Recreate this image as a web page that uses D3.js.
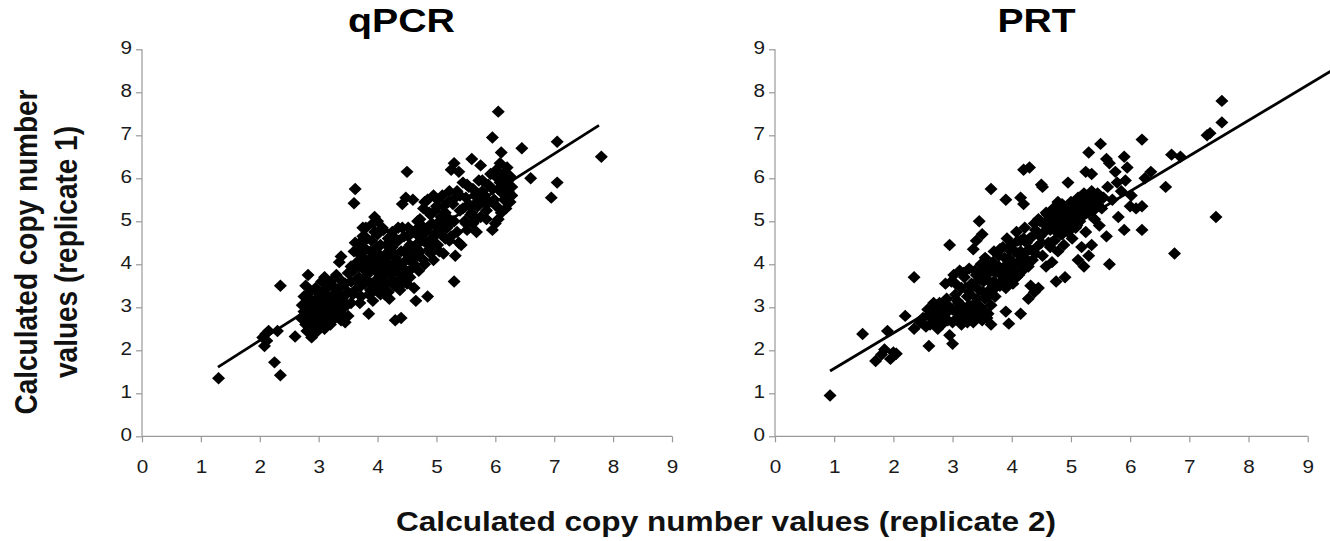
<!DOCTYPE html>
<html><head><meta charset="utf-8">
<script src="https://cdn.jsdelivr.net/npm/d3@7/dist/d3.min.js"></script>
<style>
body{margin:0;background:#fff;}
svg{display:block;font-family:"Liberation Sans",Arial,sans-serif;}
</style></head>
<body>
<svg id="chart" width="1330" height="541"></svg>
<script>
// ---- data ----
const panelTitles = ["qPCR", "PRT"];
const xTicks = [0,1,2,3,4,5,6,7,8,9];
const yTicks = [0,1,2,3,4,5,6,7,8,9];
const xAxisTitle = "Calculated copy number values (replicate 2)";
const yAxisTitleLines = ["Calculated copy number", "values (replicate 1)"];

// trend line endpoints [x, y]
const qpcrTrend = [[1.29,1.61],[7.76,7.23]];
const prtTrend = [[0.93,1.52],[9.4,8.50]];

const qpcrPoints = [
[1.30,1.35],[2.35,1.42],[2.25,1.72],[2.08,2.10],[2.12,2.22],[2.05,2.30],[2.15,2.45],[2.10,2.38],[2.30,2.45],[2.35,3.50],[2.60,2.32],[2.78,3.50],[2.82,3.75],[2.88,2.30],[2.92,2.42],
[2.70,2.75],[2.72,3.05],[2.75,2.90],[2.78,2.60],[2.80,3.20],[2.83,2.80],[2.85,3.00],[2.85,3.35],[2.88,2.55],[2.90,2.70],[2.92,3.10],[2.95,2.85],[2.95,3.45],[2.98,2.45],[3.00,3.00],[3.00,3.25],[3.02,2.65],[3.05,3.60],[3.05,2.80],[3.08,3.10],[3.10,2.50],[3.10,3.40],[3.12,2.95],[3.15,3.20],[3.15,2.70],[3.18,3.50],[3.20,3.00],[3.22,2.85],[3.25,3.30],[3.25,3.65],[3.28,2.75],[3.30,3.10],[3.32,2.95],[3.35,3.45],[3.38,2.70],[3.40,3.20],[3.42,3.00],[3.45,2.65],[3.45,3.55],[3.50,3.35],[3.48,3.05],[3.35,4.05],[3.38,4.18],[3.30,3.75],[3.55,3.10],
[2.75,3.25],[2.80,2.45],[2.88,3.15],[2.92,2.62],[2.98,3.35],[3.02,2.90],[3.05,3.15],[3.08,2.60],[3.12,3.30],[3.15,3.55],[3.18,2.85],[3.22,3.15],[3.28,3.45],[3.30,2.85],[3.35,3.25],[3.40,2.85],[3.40,3.60],[3.45,3.30],[3.50,2.80],[3.50,3.80],[2.90,2.95],[3.00,2.75],[3.20,2.60],[3.10,3.70],
[3.55,3.60],[3.58,3.85],[3.60,4.30],[3.60,5.42],[3.62,5.75],[3.62,3.40],[3.65,4.05],[3.68,3.70],[3.70,4.50],[3.72,3.25],[3.72,4.20],[3.75,3.90],[3.75,4.65],[3.78,3.55],[3.80,4.85],[3.80,4.35],[3.82,3.75],[3.85,2.85],[3.85,4.10],[3.88,3.40],[3.90,4.55],[3.90,3.95],[3.92,3.15],[3.92,4.95],[3.95,5.10],[3.95,3.60],[3.98,4.25],[4.00,3.80],[4.00,4.70],[4.02,3.45],[4.05,4.05],[4.05,4.45],[4.08,3.65],[4.10,3.90],[4.10,4.80],[4.12,3.30],[4.15,4.25],[4.15,3.55],[4.18,4.60],[4.20,3.20],[4.20,4.00],[4.22,3.75],[4.25,4.40],[4.25,4.75],[4.28,3.50],[4.30,2.70],[4.30,4.15],[4.32,3.85],[4.35,4.55],[4.38,3.40],[4.40,2.75],[4.40,4.00],[4.42,5.40],[4.42,4.85],[4.45,3.70],[4.45,4.30],[4.48,5.55],[4.50,6.15],[4.50,3.55],[4.52,4.65],[4.55,4.10],[4.58,3.90],[4.60,5.50],[4.60,4.40],[4.62,3.45],[4.65,3.15],
[3.55,3.95],[3.58,3.30],[3.62,4.50],[3.65,3.60],[3.68,4.30],[3.70,3.95],[3.72,3.50],[3.75,4.40],[3.78,4.05],[3.80,3.65],[3.82,4.60],[3.85,3.30],[3.85,3.85],[3.88,4.30],[3.90,3.55],[3.92,4.10],[3.95,4.75],[3.95,3.40],[3.98,3.95],[4.00,4.40],[4.02,3.65],[4.05,4.20],[4.05,3.30],[4.08,4.85],[4.10,3.50],[4.12,4.05],[4.15,4.45],[4.15,3.80],[4.18,3.35],[4.20,4.25],[4.22,4.60],[4.25,3.95],[4.25,3.60],[4.28,4.25],[4.30,4.60],[4.32,3.60],[4.35,4.00],[4.35,4.85],[4.38,3.80],[4.40,4.30],[4.42,3.55],[4.45,4.05],[4.45,4.65],[4.48,3.85],[4.50,4.25],[4.52,4.85],[4.55,3.70],[4.55,4.45],[4.58,4.20],[4.60,4.75],[4.62,4.00],[3.70,3.10],[3.75,4.85],[4.00,5.00],
[4.65,4.80],[4.68,4.20],[4.70,3.85],[4.72,5.05],[4.75,4.55],[4.78,5.30],[4.80,4.00],[4.82,4.75],[4.85,3.25],[4.85,5.50],[4.88,4.35],[4.90,5.15],[4.92,4.60],[4.95,5.60],[4.95,4.10],[4.98,4.90],[5.00,5.35],[5.02,4.45],[5.05,5.00],[5.08,4.70],[5.10,5.60],[5.12,4.25],[5.15,5.20],[5.18,4.85],[5.20,5.45],[5.22,4.55],[5.25,6.20],[5.28,5.00],[5.30,6.35],[5.30,3.60],[5.32,4.20],[5.35,5.70],[5.38,4.50],[5.38,6.15],[5.40,5.25],[5.42,4.45],
[4.65,4.45],[4.68,5.00],[4.70,4.65],[4.72,4.30],[4.75,4.90],[4.78,4.10],[4.80,5.45],[4.82,4.50],[4.85,4.85],[4.88,5.20],[4.90,4.25],[4.92,4.95],[4.95,4.50],[4.98,5.25],[5.00,4.70],[5.02,5.50],[5.05,4.30],[5.08,5.10],[5.10,4.85],[5.12,5.35],[5.15,4.60],[5.18,5.10],[5.20,4.95],[5.22,5.70],[5.25,4.65],[5.28,5.40],[5.30,5.00],[5.32,5.55],[5.35,4.75],
[5.45,5.90],[5.48,5.00],[5.50,5.55],[5.52,4.80],[5.55,5.80],[5.58,5.15],[5.60,6.45],[5.62,4.95],[5.65,5.60],[5.68,4.75],[5.70,5.35],[5.72,5.95],[5.75,6.30],[5.75,5.10],[5.78,5.70],[5.80,5.45],[5.85,5.25],[5.88,5.85],[5.92,6.10],[5.95,6.95],[5.95,4.80],[5.98,5.50],[6.00,4.95],[6.02,6.20],[6.05,7.55],[6.05,5.75],[6.08,6.35],[6.10,5.20],[6.10,6.60],[6.12,6.00],[6.15,5.50],[6.18,5.85],[6.20,6.25],[6.22,5.95],[6.25,5.45],[6.28,5.80],[6.45,6.70],[6.60,6.00],[6.95,5.55],[7.05,5.90],[7.05,6.85],[7.80,6.50],
[5.40,5.60],[5.45,5.30],[5.50,4.95],[5.52,5.85],[5.55,5.40],[5.60,5.20],[5.62,5.75],[5.65,5.40],[5.68,5.05],[5.72,5.55],[5.78,5.95],[5.82,5.60],[5.85,5.05],[5.90,5.45],[5.95,5.75],[6.00,6.05],[6.02,5.35],[6.05,5.05],[6.08,5.90],[6.12,5.65],[6.15,6.10],[6.18,5.30],[6.22,5.70],[6.25,6.05],[6.28,5.60]
];

const prtPoints = [
[0.93,0.95],[1.48,2.38],[1.70,1.75],[1.80,1.90],[1.85,2.02],[1.90,2.45],[1.95,1.80],[2.00,1.95],[2.05,1.92],[2.20,2.80],[2.35,3.70],[2.35,2.50],[2.45,2.65],[2.55,2.55],[2.60,2.10],[2.60,2.80],[2.65,2.95],[2.70,2.65],[2.72,3.05],[2.75,2.50],[2.78,2.85],[2.80,3.00],[2.85,2.70],[2.88,3.55],[2.90,3.20],[2.92,2.90],[2.95,4.45],[2.95,2.35],[2.98,3.60],[3.00,2.15],[3.00,2.95],[3.02,3.75],[3.05,3.30],[3.08,2.75],[3.10,3.10],[3.12,3.85],[3.15,2.60],[3.15,3.45],[3.18,2.95],[3.20,3.70],[3.22,2.70],[3.25,3.25],[3.28,3.90],[3.30,2.85],[3.32,3.55],[3.35,4.35],[3.35,2.65],[3.38,3.10],[3.40,4.55],[3.40,3.75],[3.42,2.80],[3.45,5.00],[3.45,3.40],[3.48,4.00],[3.50,4.70],[3.50,2.95],[3.52,3.60],[3.55,3.20],[3.55,4.15],[3.58,2.75],[3.60,3.85],[3.62,3.40],[3.65,5.75],[3.65,3.05],[3.68,4.05],[3.70,3.60],[3.72,3.25],[3.75,3.90],[3.78,4.20],[3.80,3.50],[3.82,3.75],[3.85,4.40],[3.88,3.95],[3.90,5.50],[3.90,2.90],[3.90,3.65],[3.92,4.60],[3.95,2.62],[3.95,4.15],[3.98,3.80],[4.00,4.45],[4.02,3.55],[4.05,4.00],[4.08,4.75],[4.10,4.25],[4.12,3.75],[4.15,5.55],[4.15,2.85],[4.15,4.55],[4.18,4.05],[4.20,6.20],[4.20,5.40],[4.22,4.85],[4.25,4.30],[4.28,3.20],[4.30,6.25],[4.30,4.60],[4.32,3.50],[4.35,4.10],[4.38,3.35],[4.40,4.80],[4.42,4.40],[4.45,3.45],[4.45,5.05],[4.48,4.65],[4.50,5.85],[4.52,5.80],[4.52,4.20],[4.55,4.95],[4.58,3.95],[4.60,5.15],[4.62,4.50],[4.65,4.80],[4.68,4.05],[4.70,5.30],[4.72,4.55],[4.75,3.60],[4.75,5.00],[4.78,4.30],[4.80,5.20],[4.82,4.70],[4.85,5.40],[4.88,4.45],[4.90,3.70],[4.90,4.95],[4.92,5.25],[4.95,5.90],[4.95,4.75],[4.98,5.05],[5.00,5.45],[5.02,4.60],[5.05,5.20],[5.08,4.85],[5.10,5.35],[5.12,4.10],[5.15,5.00],[5.18,4.40],[5.20,5.50],[5.22,3.95],[5.25,6.15],[5.25,4.75],[5.28,5.25],[5.30,6.60],[5.30,4.20],[5.32,5.60],[5.35,6.10],[5.35,4.45],[5.38,5.40],[5.40,5.05],[5.45,5.65],[5.48,4.90],[5.50,6.80],[5.52,5.30],[5.55,5.55],[5.60,6.45],[5.60,4.65],[5.62,5.80],[5.65,6.35],[5.65,4.00],[5.70,5.50],[5.75,6.15],[5.78,5.90],[5.80,5.10],[5.85,5.70],[5.90,6.50],[5.90,4.80],[5.92,5.95],[5.95,6.25],[6.00,5.35],[6.02,5.60],[6.10,5.30],[6.20,6.90],[6.20,5.35],[6.20,4.80],[6.25,6.00],[6.35,6.15],[6.60,5.80],[6.70,6.55],[6.75,4.25],[6.85,6.50],[7.30,7.00],[7.35,7.05],[7.45,5.10],[7.55,7.30],[7.55,7.80],
[2.50,2.75],[2.58,2.95],[2.62,2.60],[2.68,2.85],[2.72,2.72],[2.78,3.10],[2.82,2.60],[2.85,2.88],[2.88,3.10],[2.92,2.70],[2.95,3.00],[3.00,2.65],[3.05,2.90],[3.08,3.15],[3.12,2.75],[3.15,3.05],[3.20,2.90],[3.25,2.65],[3.28,3.05],[3.30,3.30],[2.68,3.10],[3.05,3.55],[3.18,3.80],[3.22,3.45],
[3.35,3.50],[3.38,3.85],[3.42,3.20],[3.45,3.65],[3.48,3.00],[3.50,3.85],[3.52,3.35],[3.55,3.70],[3.58,4.00],[3.60,3.25],[3.62,3.60],[3.65,3.85],[3.68,3.40],[3.70,4.30],[3.72,3.80],[3.75,3.50],[3.78,3.95],[3.80,4.35],[3.82,3.60],[3.85,3.85],[3.88,4.15],[3.90,3.45],[3.92,3.90],[3.95,4.35],[3.98,3.60],[4.00,4.05],[4.02,3.85],[4.05,4.30],[4.08,3.70],[4.10,4.55],[4.12,4.00],[4.15,4.30],[4.18,3.85],[4.20,4.60],[4.22,4.15],[4.25,4.50],[4.28,3.95],[4.30,4.35],[3.60,2.85],[3.65,2.60],[3.50,2.70],[3.40,2.95],
[4.35,4.65],[4.38,4.95],[4.40,4.25],[4.45,4.70],[4.48,5.00],[4.50,4.50],[4.55,4.75],[4.58,5.20],[4.60,4.85],[4.62,5.05],[4.65,4.40],[4.68,4.95],[4.70,5.15],[4.72,4.80],[4.75,5.25],[4.78,5.45],[4.80,4.90],[4.82,5.10],[4.85,4.70],[4.88,5.30],[4.90,5.10],[4.92,4.85],[4.95,5.35],[4.98,4.90],[5.00,5.20],[5.02,5.00],[5.05,5.45],[5.08,5.10],[5.10,4.90],[5.12,5.55],[5.15,5.30],[5.18,5.15],[5.20,5.40],[5.22,5.65],[5.25,5.35],[5.28,5.50],[5.30,5.20],[5.32,5.45],[5.35,5.70],[5.38,5.25],[5.40,5.55],[5.45,5.40],[5.50,5.55]
];

// ---- layout ----
const svg = d3.select("#chart");
const panels = [
  {title: panelTitles[0], pts: qpcrPoints, trend: qpcrTrend, x0: 142, x1: 672, titleX: 401.5, titleW: 107},
  {title: panelTitles[1], pts: prtPoints, trend: prtTrend, x0: 775, x1: 1307.7, titleX: 1036.5, titleW: 78}
];
const yTop = 49.3, yBot = 436.3;
const axisColor = "#999";
const labelColor = "#1a1a1a";

const diamond = (hw, hh) => `M0,${-hh}L${hw},0L0,${hh}L${-hw},0Z`;

panels.forEach(p => {
  const x = d3.scaleLinear().domain([0, 9]).range([p.x0, p.x1]);
  const y = d3.scaleLinear().domain([0, 9]).range([yBot, yTop]);
  const g = svg.append("g");

  const ya = g.append("g").attr("transform", `translate(${p.x0},0)`)
    .call(d3.axisLeft(y).tickValues(yTicks).tickSize(6).tickPadding(4).tickFormat(d3.format("d")));
  const xa = g.append("g").attr("transform", `translate(0,${yBot})`)
    .call(d3.axisBottom(x).tickValues(xTicks).tickSize(6).tickPadding(18).tickFormat(d3.format("d")));
  [ya, xa].forEach(a => {
    a.select(".domain").attr("stroke", axisColor).attr("stroke-width", 1.2)
      .attr("d", a === ya ? `M0,${yBot}V${yTop}` : `M${p.x0},0H${p.x1}`);
    a.selectAll(".tick line").attr("stroke", axisColor).attr("stroke-width", 1.2);
    a.selectAll(".tick text").attr("fill", labelColor).style("font-size", "17.5px")
      .style("font-family", "'Liberation Sans', Arial, sans-serif")
      .attr("textLength", 11.5).attr("lengthAdjust", "spacingAndGlyphs");
  });
  ya.selectAll(".tick text").attr("dy", "0.25em");

  g.append("g").selectAll("path").data(p.pts).join("path")
    .attr("d", diamond(6.5, 6.2))
    .attr("transform", d => `translate(${x(d[0])},${y(d[1])})`)
    .attr("fill", "#000");

  g.append("path")
    .datum(p.trend)
    .attr("d", d3.line().x(d => x(d[0])).y(d => y(d[1])))
    .attr("stroke", "#000").attr("stroke-width", 2.8).attr("fill", "none");

  g.append("text").attr("x", p.titleX).attr("y", 32)
    .attr("text-anchor", "middle").attr("font-weight", "bold")
    .attr("font-size", 33).attr("textLength", p.titleW).attr("lengthAdjust", "spacingAndGlyphs")
    .attr("fill", "#000").text(p.title);
});

svg.append("text").attr("x", 726).attr("y", 531)
  .attr("text-anchor", "middle").attr("font-weight", "bold").attr("font-size", 27)
  .attr("textLength", 660).attr("lengthAdjust", "spacingAndGlyphs")
  .attr("fill", "#111").text(xAxisTitle);

const yBase = [37, 77];
yAxisTitleLines.forEach((t, i) => {
  svg.append("text")
    .attr("transform", `translate(${yBase[i]},252) scale(1.15,1) rotate(-90)`)
    .attr("text-anchor", "middle").attr("font-weight", "bold").attr("font-size", 28)
    .attr("fill", "#111").text(t);
});
</script>
</body></html>
